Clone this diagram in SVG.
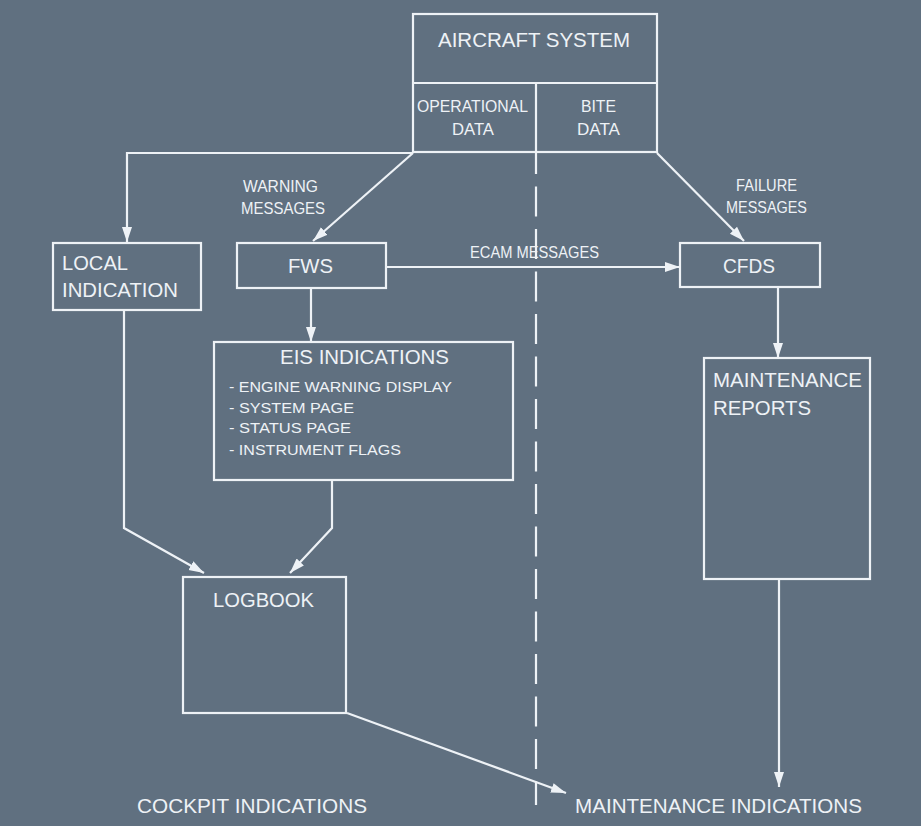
<svg xmlns="http://www.w3.org/2000/svg" width="921" height="826" viewBox="0 0 921 826">
<style>
.box{fill:none;stroke:#eef2f6;stroke-width:2.2}
.ln{fill:none;stroke:#eef2f6;stroke-width:2.2}
.t{font-family:"Liberation Sans",Arial,sans-serif;fill:#eef2f6}
.big{font-size:20px}
.sm{font-size:16.5px}
.it{font-size:14px}
</style>
<defs>
<marker id="ah" markerUnits="userSpaceOnUse" markerWidth="16" markerHeight="12" refX="15" refY="6" orient="auto">
<path d="M0,1 L15,6 L0,11 Z" fill="#eef2f6"/>
</marker>
</defs>
<rect width="921" height="826" fill="#607080"/>
<g id="aircraft-system">
<rect class="box" x="413" y="14" width="244" height="138"/>
<line class="ln" x1="413" y1="83" x2="657" y2="83"/>
<line class="ln" x1="536" y1="83" x2="536" y2="152"/>
<text class="t big" x="438" y="47" textLength="192" lengthAdjust="spacingAndGlyphs">AIRCRAFT SYSTEM</text>
<text class="t sm" x="417" y="112" textLength="111" lengthAdjust="spacingAndGlyphs">OPERATIONAL</text>
<text class="t sm" x="452" y="135" textLength="42" lengthAdjust="spacingAndGlyphs">DATA</text>
<text class="t sm" x="581" y="112" textLength="35" lengthAdjust="spacingAndGlyphs">BITE</text>
<text class="t sm" x="577" y="135" textLength="43" lengthAdjust="spacingAndGlyphs">DATA</text>
</g>
<g id="local-indication">
<rect class="box" x="53" y="243" width="148" height="67"/>
<text class="t big" x="62" y="270" textLength="66" lengthAdjust="spacingAndGlyphs">LOCAL</text>
<text class="t big" x="62" y="297" textLength="116" lengthAdjust="spacingAndGlyphs">INDICATION</text>
</g>
<g id="fws">
<rect class="box" x="237" y="243" width="149" height="45"/>
<text class="t big" x="288" y="273" textLength="45" lengthAdjust="spacingAndGlyphs">FWS</text>
</g>
<g id="cfds">
<rect class="box" x="680" y="243" width="140" height="44"/>
<text class="t big" x="723" y="273" textLength="52" lengthAdjust="spacingAndGlyphs">CFDS</text>
</g>
<g id="eis-indications">
<rect class="box" x="214" y="342" width="299" height="138"/>
<text class="t big" x="280" y="364" textLength="169" lengthAdjust="spacingAndGlyphs">EIS INDICATIONS</text>
<text class="t it" x="229" y="392" textLength="223" lengthAdjust="spacingAndGlyphs">- ENGINE WARNING DISPLAY</text>
<text class="t it" x="229" y="413" textLength="125" lengthAdjust="spacingAndGlyphs">- SYSTEM PAGE</text>
<text class="t it" x="229" y="433" textLength="122" lengthAdjust="spacingAndGlyphs">- STATUS PAGE</text>
<text class="t it" x="229" y="455" textLength="172" lengthAdjust="spacingAndGlyphs">- INSTRUMENT FLAGS</text>
</g>
<g id="maintenance-reports">
<rect class="box" x="704" y="358" width="166" height="221"/>
<text class="t big" x="713" y="387" textLength="149" lengthAdjust="spacingAndGlyphs">MAINTENANCE</text>
<text class="t big" x="713" y="415" textLength="98" lengthAdjust="spacingAndGlyphs">REPORTS</text>
</g>
<g id="logbook">
<rect class="box" x="183" y="577" width="163" height="136"/>
<text class="t big" x="213" y="607" textLength="101" lengthAdjust="spacingAndGlyphs">LOGBOOK</text>
</g>
<g id="connectors">
<line class="ln" x1="536" y1="152" x2="536" y2="805" stroke-dasharray="30 12.5" stroke-dashoffset="8"/>
<path class="ln" d="M413,153 H127 V242" marker-end="url(#ah)"/>
<path class="ln" d="M413,153 L313,241" marker-end="url(#ah)"/>
<path class="ln" d="M657,153 L744,241" marker-end="url(#ah)"/>
<path class="ln" d="M386,267 H680" marker-end="url(#ah)"/>
<path class="ln" d="M311,288 V342" marker-end="url(#ah)"/>
<path class="ln" d="M778,287 V358" marker-end="url(#ah)"/>
<path class="ln" d="M124,310 V528 L204,573" marker-end="url(#ah)"/>
<path class="ln" d="M332,480 V528 L290,573" marker-end="url(#ah)"/>
<path class="ln" d="M347,713 L566,793" marker-end="url(#ah)"/>
<path class="ln" d="M779,579 V787" marker-end="url(#ah)"/>
<text class="t sm" x="243" y="192" textLength="75" lengthAdjust="spacingAndGlyphs">WARNING</text>
<text class="t sm" x="241" y="214" textLength="84" lengthAdjust="spacingAndGlyphs">MESSAGES</text>
<text class="t sm" x="736" y="191" textLength="61" lengthAdjust="spacingAndGlyphs">FAILURE</text>
<text class="t sm" x="726" y="213" textLength="81" lengthAdjust="spacingAndGlyphs">MESSAGES</text>
<text class="t sm" x="470" y="258" textLength="129" lengthAdjust="spacingAndGlyphs">ECAM MESSAGES</text>
</g>
<text class="t big" x="137" y="813" textLength="230" lengthAdjust="spacingAndGlyphs">COCKPIT INDICATIONS</text>
<text class="t big" x="575" y="813" textLength="287" lengthAdjust="spacingAndGlyphs">MAINTENANCE INDICATIONS</text>
</svg>
